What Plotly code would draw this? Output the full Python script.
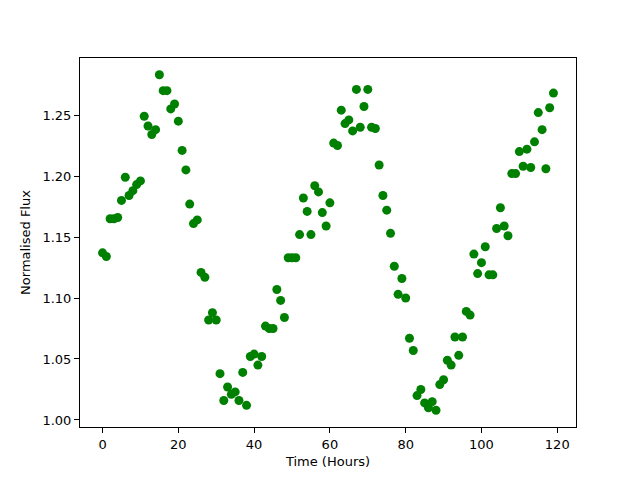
import plotly.graph_objects as go

hours = list(range(120))
flux = [
    1.137, 1.134, 1.165, 1.165, 1.166, 1.180, 1.199, 1.184, 1.188, 1.193,
    1.196, 1.249, 1.241, 1.234, 1.238, 1.283, 1.270, 1.270, 1.255, 1.259,
    1.245, 1.221, 1.205, 1.177, 1.161, 1.164, 1.121, 1.117, 1.082, 1.088,
    1.082, 1.038, 1.016, 1.027, 1.021, 1.023, 1.016, 1.039, 1.012, 1.052,
    1.054, 1.045, 1.052, 1.077, 1.075, 1.075, 1.107, 1.098, 1.084, 1.133,
    1.133, 1.133, 1.152, 1.182, 1.171, 1.152, 1.192, 1.187, 1.170, 1.159,
    1.178, 1.227, 1.225, 1.254, 1.243, 1.246, 1.237, 1.271, 1.240, 1.257,
    1.271, 1.240, 1.239, 1.209, 1.184, 1.172, 1.153, 1.126, 1.103, 1.116,
    1.100, 1.067, 1.057, 1.020, 1.025, 1.014, 1.010, 1.015, 1.008, 1.029,
    1.033, 1.049, 1.045, 1.068, 1.053, 1.068, 1.089, 1.086, 1.136, 1.120,
    1.129, 1.142, 1.119, 1.119, 1.157, 1.174, 1.159, 1.151, 1.202, 1.202,
    1.220, 1.208, 1.222, 1.207, 1.228, 1.252, 1.238, 1.206, 1.256, 1.268,
]
x_ticks = [0, 20, 40, 60, 80, 100, 120]
y_ticks = [1.00, 1.05, 1.10, 1.15, 1.20, 1.25]

def padded(vals, frac=0.05):
    lo, hi = min(vals), max(vals)
    d = (hi - lo) * frac
    return [lo - d, hi + d]

fig = go.Figure(go.Scatter(
    x=hours, y=flux, mode="markers",
    marker=dict(color="#008000", size=9, line=dict(width=0)),
))

axis_common = dict(
    showline=True, linecolor="black", linewidth=1, mirror=True,
    ticks="outside", ticklen=5, tickwidth=1, tickcolor="black",
    showgrid=False, zeroline=False, automargin=False,
    tickfont=dict(family="DejaVu Sans", size=13, color="black"),
)

fig.update_layout(
    width=632, height=472,
    margin=dict(l=72, r=64, t=50, b=53, pad=0),
    paper_bgcolor="white", plot_bgcolor="white",
    showlegend=False,
    font=dict(family="DejaVu Sans", size=13, color="black"),
    xaxis=dict(range=padded(hours), tickvals=x_ticks,
               title=dict(text="Time (Hours)", standoff=6,
                          font=dict(family="DejaVu Sans", size=13, color="black")),
               **axis_common),
    yaxis=dict(range=padded(flux), tickvals=y_ticks, tickformat=".2f",
               title=dict(text="Normalised Flux", standoff=8,
                          font=dict(family="DejaVu Sans", size=13, color="black")),
               **axis_common),
)

fig.write_html("out.html", config={"displayModeBar": False})
